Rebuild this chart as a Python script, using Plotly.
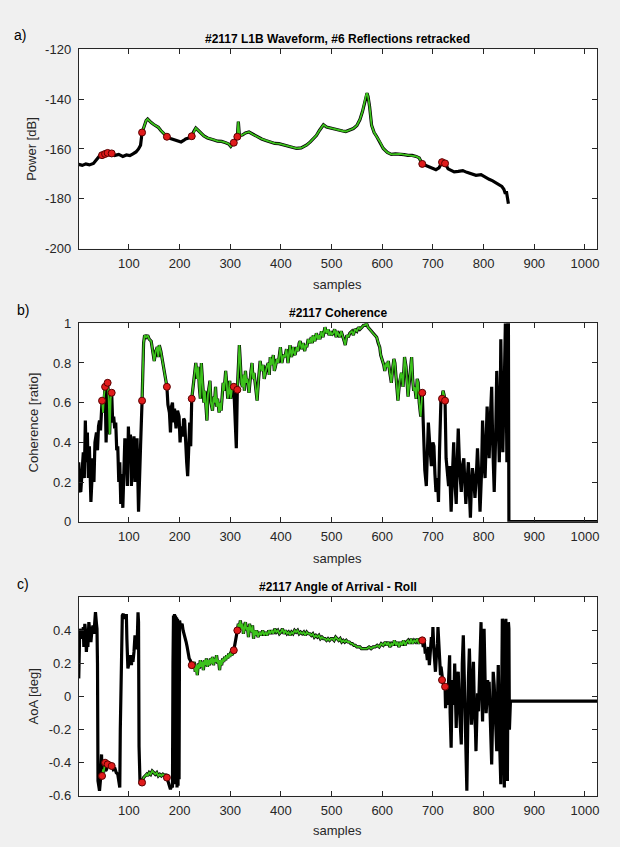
import numpy as np
import plotly.graph_objects as go

# ---------------- data ----------------
# Panel a: L1B waveform power [dB]
power_samples = [1, 8, 15, 22, 30, 36, 42, 47, 53, 58, 66, 72, 80, 88, 95, 102, 108, 114, 119, 123,
                 126, 131, 134, 137, 141, 144, 149, 154, 158, 163, 168, 175, 182, 190, 196, 203, 208,
                 212, 218, 224, 228, 232, 237, 242, 248, 255, 262, 268, 275, 283, 291, 297, 301, 304,
                 307, 310, 312, 314, 316, 318, 324, 330, 337, 345, 353, 362, 370, 379, 388, 396, 405,
                 414, 422, 431, 440, 446, 451, 458, 464, 470, 476, 481, 484, 490, 497, 505, 511, 516,
                 522, 528, 535, 543, 550, 556, 561, 565, 568, 570, 572, 575, 579, 584, 589, 595, 602,
                 610, 618, 626, 635, 643, 651, 659, 667, 673, 679, 684, 690, 698, 706, 712, 718, 724,
                 730, 736, 742, 750, 759, 767, 775, 785, 795, 803, 811, 818, 823, 827, 832, 836, 840,
                 843, 845, 847, 849]
power_db = [-166.2, -166.6, -166.0, -166.4, -165.8, -164.3, -162.8, -162.5, -162.0, -161.6, -161.8,
            -162.6, -162.2, -163.0, -162.4, -162.7, -162.0, -161.2, -160.0, -158.5,
            -153.4, -150.0, -148.6, -148.0, -149.0, -149.4, -150.2, -150.8, -151.3, -152.6, -153.8,
            -155.1, -155.8, -156.4, -156.6, -157.2, -156.6, -156.0, -155.6, -154.9, -153.0, -151.6,
            -152.6, -153.8, -154.8, -155.6, -156.2, -156.4, -156.9, -157.0, -157.5, -158.0, -159.0,
            -158.2, -157.5, -156.4, -155.5, -155.1, -149.0, -154.6, -154.4, -153.6, -153.2, -154.2,
            -155.1, -156.0, -156.6, -157.2, -157.8, -157.9, -158.4, -158.8, -159.3, -159.8, -159.6,
            -159.0, -158.4, -157.2, -156.0, -154.6, -152.6, -150.8, -150.3, -151.2, -151.6, -152.0,
            -152.4, -152.4, -152.8, -153.0, -152.4, -151.8, -150.6, -148.2, -145.0, -141.0, -138.5,
            -137.6, -139.0, -143.0, -150.5, -153.4, -155.0, -157.0, -159.8, -161.4, -162.2, -162.0,
            -162.0, -162.3, -162.6, -162.6, -163.0, -163.6, -166.0, -166.4, -167.0, -167.6, -168.3,
            -167.6, -165.3, -165.8, -168.0, -168.6, -169.2, -169.0, -168.7, -169.4, -170.0, -170.6,
            -170.3, -171.4, -172.2, -172.8, -173.4, -173.6, -174.5, -175.0, -176.2, -178.0, -177.0,
            -180.5, -182.0]

# Panel b: coherence [ratio]
coh_samples = [1, 3, 5, 8, 10, 12, 14, 16, 18, 20, 22, 25, 27, 29, 31, 33, 36, 38, 40, 42, 44, 47, 49,
               51, 53, 55, 58, 60, 62, 64, 66, 68, 70, 72, 74, 76, 78, 80, 82, 84, 86, 88, 90, 92, 95,
               97, 99, 101, 103, 105, 107, 110, 112, 114, 116, 119, 121, 123, 126, 129, 131, 134, 137,
               140, 144, 147, 150, 153, 156, 158, 160, 163, 165, 168, 170, 173, 175, 177, 180, 182,
               184, 186, 188, 190, 193, 196, 199, 201, 203, 206, 208, 210, 212, 214, 216, 218, 220,
               221, 222, 224, 227, 230, 232, 235, 237, 239, 241, 243, 245, 248, 250, 252, 254, 256,
               258, 260, 262, 265, 267, 269, 271, 273, 275, 278, 280, 282, 284, 286, 288, 291, 293,
               295, 297, 299, 301, 304, 307, 310, 312, 314, 316, 318, 320, 322, 324, 326, 328, 330,
               332, 334, 337, 339, 341, 343, 345, 347, 350, 353, 356, 359, 362, 365, 367, 369, 372,
               375, 377, 379, 382, 385, 387, 389, 392, 395, 397, 399, 402, 405, 408, 411, 414, 416,
               418, 421, 424, 426, 428, 431, 434, 436, 438, 441, 444, 447, 449, 451, 454, 457, 460,
               462, 464, 467, 470, 473, 475, 477, 480, 483, 485, 487, 490, 493, 495, 498, 500, 503,
               506, 509, 511, 513, 516, 519, 522, 525, 527, 530, 533, 536, 540, 543, 546, 550, 553,
               556, 560, 563, 566, 569, 572, 575, 579, 582, 585, 589, 592, 595, 597, 600, 603, 605,
               608, 610, 612, 615, 618, 621, 623, 625, 628, 631, 634, 636, 638, 641, 644, 647, 649,
               651, 654, 656, 658, 660, 662, 664, 667, 669, 671, 673, 676, 679, 682, 684, 687, 689,
               691, 694, 697, 700, 702, 704, 706, 709, 711, 713, 716, 718, 720, 722, 724, 726, 729,
               731, 733, 736, 738, 741, 743, 746, 748, 750, 753, 756, 758, 761, 763, 765, 768, 770,
               772, 774, 776, 778, 781, 783, 786, 788, 791, 793, 796, 798, 801, 803, 805, 807, 809,
               811, 813, 816, 818, 821, 824, 826, 829, 831, 833, 834, 836, 838, 841, 843, 845, 846,
               848, 849, 850, 1024]
coh_ratio = [0.30, 0.16, 0.15, 0.28, 0.35, 0.22, 0.51, 0.30, 0.45, 0.22, 0.38, 0.10, 0.26, 0.32, 0.20,
             0.40, 0.45, 0.36, 0.48, 0.51, 0.46, 0.61, 0.55, 0.64, 0.68, 0.40, 0.70, 0.63, 0.44, 0.62,
             0.65, 0.50, 0.53, 0.47, 0.50, 0.36, 0.38, 0.20, 0.30, 0.09, 0.24, 0.07, 0.20, 0.42, 0.35,
             0.18, 0.48, 0.30, 0.44, 0.18, 0.35, 0.43, 0.20, 0.32, 0.42, 0.05, 0.30, 0.38, 0.61, 0.90,
             0.94, 0.93, 0.94, 0.92, 0.91, 0.86, 0.81, 0.86, 0.88, 0.83, 0.89, 0.86, 0.83, 0.78, 0.75,
             0.70, 0.68, 0.59, 0.55, 0.45, 0.58, 0.60, 0.50, 0.57, 0.47, 0.56, 0.53, 0.40, 0.48, 0.43,
             0.52, 0.51, 0.35, 0.30, 0.23, 0.45, 0.50, 0.43, 0.38, 0.62, 0.70, 0.78, 0.80, 0.72, 0.78,
             0.68, 0.62, 0.80, 0.70, 0.60, 0.66, 0.55, 0.51, 0.64, 0.68, 0.71, 0.60, 0.56, 0.63, 0.60,
             0.68, 0.58, 0.62, 0.55, 0.60, 0.56, 0.63, 0.70, 0.66, 0.76, 0.70, 0.62, 0.65, 0.71, 0.62,
             0.68, 0.68, 0.50, 0.37, 0.665, 0.78, 0.89, 0.80, 0.70, 0.68, 0.74, 0.66, 0.76, 0.70, 0.72,
             0.65, 0.73, 0.76, 0.80, 0.72, 0.75, 0.68, 0.61, 0.72, 0.81, 0.76, 0.79, 0.72, 0.75, 0.78,
             0.80, 0.74, 0.83, 0.79, 0.84, 0.76, 0.78, 0.82, 0.80, 0.86, 0.88, 0.80, 0.84, 0.83, 0.87,
             0.80, 0.84, 0.89, 0.83, 0.88, 0.85, 0.84, 0.88, 0.86, 0.90, 0.91, 0.87, 0.90, 0.86, 0.89,
             0.88, 0.92, 0.90, 0.93, 0.90, 0.94, 0.91, 0.95, 0.92, 0.94, 0.92, 0.96, 0.93, 0.97, 0.98,
             0.95, 0.97, 0.94, 0.96, 0.94, 0.95, 0.97, 0.93, 0.96, 0.95, 0.93, 0.96, 0.94, 0.91, 0.89,
             0.94, 0.93, 0.95, 0.96, 0.94, 0.97, 0.96, 0.98, 0.97, 0.98, 0.99, 0.99, 1.00, 0.98, 0.97,
             0.96, 0.95, 0.94, 0.93, 0.90, 0.88, 0.84, 0.82, 0.79, 0.76, 0.80, 0.78, 0.81, 0.75, 0.70,
             0.78, 0.82, 0.80, 0.72, 0.61, 0.70, 0.74, 0.75, 0.68, 0.83, 0.78, 0.70, 0.63, 0.72, 0.80,
             0.83, 0.72, 0.66, 0.68, 0.62, 0.72, 0.70, 0.60, 0.53, 0.65, 0.33, 0.26, 0.18, 0.35, 0.50,
             0.38, 0.28, 0.40, 0.38, 0.24, 0.15, 0.22, 0.10, 0.35, 0.63, 0.62, 0.66, 0.64, 0.61, 0.32,
             0.25, 0.18, 0.28, 0.05, 0.20, 0.40, 0.22, 0.09, 0.30, 0.47, 0.25, 0.15, 0.28, 0.32, 0.20,
             0.09, 0.22, 0.30, 0.15, 0.02, 0.18, 0.27, 0.20, 0.12, 0.25, 0.37, 0.20, 0.05, 0.25, 0.51,
             0.30, 0.22, 0.40, 0.58, 0.45, 0.32, 0.50, 0.68, 0.40, 0.15, 0.45, 0.76, 0.50, 0.30, 0.60,
             0.92, 0.60, 0.35, 0.70, 1.00, 0.60, 0.30, 1.00, 1.00, 0.0, 0.0]

# Panel c: angle of arrival, roll [deg]
aoa_samples = [1, 2, 3, 5, 6, 8, 10, 11, 13, 15, 16, 18, 19, 21, 23, 25, 27, 29, 31, 32, 34, 36, 37,
               38, 39, 41, 42, 44, 46, 47, 49, 50, 53, 54, 56, 58, 60, 63, 66, 69, 72, 75, 78, 80, 82,
               83, 85, 86, 87, 89, 91, 93, 95, 96, 97, 98, 100, 102, 103, 105, 106, 108, 110, 112, 114,
               116, 117, 118, 119, 120, 121, 122, 124, 126, 129, 132, 135, 137, 140, 143, 146, 149,
               152, 155, 158, 161, 164, 167, 170, 173, 175, 178, 180, 182, 184, 186, 187, 188, 189,
               190, 191, 192, 193, 194, 195, 196, 197, 198, 199, 200, 201, 203, 205, 207, 209, 211,
               213, 215, 217, 219, 221, 224, 227, 229, 231, 233, 235, 237, 239, 241, 243, 245, 247,
               249, 251, 253, 255, 257, 259, 261, 263, 265, 267, 269, 271, 273, 275, 277, 279, 281,
               283, 285, 287, 289, 291, 293, 295, 297, 299, 301, 303, 305, 307, 310, 312, 314, 316,
               318, 320, 322, 324, 326, 328, 330, 332, 334, 336, 338, 340, 342, 344, 346, 348, 350,
               352, 355, 358, 361, 364, 367, 370, 373, 376, 379, 382, 385, 388, 391, 394, 397, 400,
               403, 406, 409, 412, 415, 418, 421, 424, 427, 430, 433, 436, 439, 442, 445, 448, 451,
               454, 457, 460, 463, 466, 469, 472, 475, 478, 481, 484, 487, 490, 493, 496, 499, 502,
               505, 508, 511, 514, 517, 520, 523, 526, 529, 532, 535, 538, 541, 544, 547, 550, 553,
               556, 559, 562, 566, 570, 574, 578, 582, 586, 590, 594, 598, 602, 606, 609, 612, 615,
               618, 621, 624, 627, 630, 633, 636, 639, 642, 645, 648, 651, 654, 657, 660, 663, 666,
               669, 672, 675, 677, 679, 681, 683, 685, 687, 689, 691, 693, 695, 697, 699, 700, 702,
               704, 705, 707, 709, 710, 712, 714, 715, 716, 718, 720, 722, 724, 725, 727, 729, 731,
               733, 734, 736, 738, 740, 741, 743, 744, 746, 748, 750, 752, 754, 756, 758, 760, 762,
               764, 765, 767, 769, 770, 772, 774, 776, 778, 780, 782, 784, 785, 787, 788, 790, 792,
               794, 795, 796, 798, 799, 801, 803, 805, 806, 808, 810, 811, 813, 815, 816, 818, 819,
               821, 823, 825, 826, 828, 829, 831, 833, 834, 836, 837, 838, 839, 841, 842, 843, 844,
               845, 846, 847, 848, 849, 850, 851, 852, 853, 1024]
aoa_deg = [0.11, 0.30, 0.41, 0.36, 0.40, 0.35, 0.42, 0.30, 0.44, 0.38, 0.27, 0.35, 0.30, 0.45, 0.38,
           0.33, 0.40, 0.43, 0.38, 0.47, 0.51, 0.44, 0.41, 0.20, -0.51, -0.55, -0.57, -0.50, -0.35,
           -0.48, -0.44, -0.46, -0.40, -0.45, -0.44, -0.41, -0.43, -0.40, -0.42, -0.44, -0.43, -0.46,
           -0.47, -0.50, -0.55, -0.20, 0.10, 0.40, 0.49, 0.50, 0.47, 0.49, 0.49, 0.35, 0.22, 0.17,
           0.20, 0.22, 0.25, 0.19, 0.24, 0.21, 0.27, 0.37, 0.30, 0.29, 0.40, 0.51, 0.45, -0.30, -0.51,
           -0.53, -0.52, -0.52, -0.49, -0.48, -0.47, -0.48, -0.46, -0.47, -0.45, -0.46, -0.47, -0.46,
           -0.48, -0.47, -0.48, -0.47, -0.48, -0.47, -0.49, -0.52, -0.55, -0.56, -0.54, -0.55, 0.20,
           0.49, -0.50, 0.50, -0.53, 0.49, -0.52, 0.48, -0.55, 0.47, -0.54, 0.45, -0.50, 0.46, 0.44,
           0.43, 0.44, 0.40, 0.38, 0.35, 0.33, 0.30, 0.26, 0.23, 0.22, 0.19, 0.17, 0.21, 0.15, 0.19,
           0.13, 0.20, 0.17, 0.22, 0.18, 0.21, 0.16, 0.22, 0.19, 0.23, 0.18, 0.22, 0.19, 0.23, 0.20,
           0.24, 0.19, 0.23, 0.21, 0.25, 0.20, 0.22, 0.16, 0.22, 0.19, 0.23, 0.21, 0.24, 0.22, 0.25,
           0.23, 0.26, 0.24, 0.27, 0.25, 0.26, 0.28, 0.33, 0.38, 0.40, 0.44, 0.42, 0.46, 0.41, 0.44,
           0.38, 0.43, 0.45, 0.40, 0.42, 0.36, 0.44, 0.41, 0.39, 0.43, 0.35, 0.40, 0.37, 0.40, 0.36,
           0.39, 0.37, 0.40, 0.37, 0.39, 0.37, 0.40, 0.38, 0.40, 0.38, 0.41, 0.39, 0.40, 0.38, 0.39,
           0.41, 0.38, 0.40, 0.38, 0.39, 0.37, 0.39, 0.38, 0.40, 0.39, 0.40, 0.38, 0.39, 0.38, 0.39,
           0.37, 0.39, 0.38, 0.38, 0.37, 0.38, 0.36, 0.37, 0.36, 0.37, 0.35, 0.36, 0.35, 0.35, 0.34,
           0.35, 0.34, 0.35, 0.35, 0.34, 0.36, 0.35, 0.34, 0.35, 0.33, 0.34, 0.33, 0.34, 0.33, 0.33,
           0.32, 0.32, 0.31, 0.31, 0.30, 0.30, 0.30, 0.29, 0.29, 0.29, 0.29, 0.30, 0.29, 0.30, 0.30,
           0.31, 0.30, 0.32, 0.31, 0.33, 0.31, 0.33, 0.30, 0.32, 0.31, 0.34, 0.31, 0.33, 0.30, 0.33,
           0.31, 0.34, 0.31, 0.33, 0.34, 0.32, 0.35, 0.32, 0.34, 0.33, 0.35, 0.32, 0.35, 0.33, 0.34,
           0.30, 0.33, 0.26, 0.28, 0.22, 0.30, 0.19, 0.27, 0.36, 0.32, 0.42, 0.28, 0.20, 0.15, 0.25,
           0.32, 0.42, 0.30, 0.20, 0.13, 0.18, 0.10, 0.08, 0.07, 0.06, -0.07, 0.07, -0.05, 0.18, 0.25,
           -0.10, -0.31, 0.10, -0.05, -0.05, 0.20, 0.05, -0.19, 0.10, 0.15, -0.05, -0.20, -0.29, 0.20,
           0.37, 0.10, -0.09, -0.30, -0.57, -0.05, 0.10, 0.29, -0.05, -0.17, 0.05, 0.21, -0.10, -0.20,
           -0.33, -0.15, 0.02, -0.09, 0.20, 0.35, 0.45, 0.10, -0.15, 0.05, 0.41, 0.10, -0.10, -0.05,
           0.10, -0.02, 0.09, -0.20, -0.30, -0.41, -0.10, 0.15, 0.07, -0.15, -0.25, -0.33, 0.05, 0.19,
           -0.20, -0.40, -0.53, 0.10, 0.47, 0.45, -0.20, -0.55, 0.10, 0.46, 0.47, 0.00, -0.30, -0.51,
           0.10, 0.45, 0.41, -0.20, -0.03, -0.028, -0.028]

# Retracked reflections: (first sample, last sample)
reflection_start = [47, 58, 126, 224, 314, 718]
reflection_end = [53, 66, 175, 307, 679, 724]

x_ticks = [100, 200, 300, 400, 500, 600, 700, 800, 900, 1000]
power_ticks = [-200, -180, -160, -140, -120]
power_ticktext = ["-200", "-180", "-160", "-140", "-120"]
coh_ticks = [0, 0.2, 0.4, 0.6, 0.8, 1]
coh_ticktext = ["0", "0.2", "0.4", "0.6", "0.8", "1"]
aoa_ticks = [-0.6, -0.4, -0.2, 0, 0.2, 0.4]
aoa_ticktext = ["-0.6", "-0.4", "-0.2", "0", "0.2", "0.4"]

for nm, a, b in [("power", power_samples, power_db), ("coh", coh_samples, coh_ratio),
                 ("aoa", aoa_samples, aoa_deg)]:
    if len(a) != len(b):
        raise SystemExit(f"{nm}: {len(a)} samples vs {len(b)} values")

# ---------------- figure ----------------
W, H = 620, 847
BLACK = "#000000"
GREEN = "#3cc21c"
RED = "#e01b1b"
AX = "#262626"
FONT = "Liberation Sans, Arial, sans-serif"

fig = go.Figure()


def add_panel(k, xs, ys):
    xs = np.asarray(xs, dtype=float)
    ys = np.asarray(ys, dtype=float)
    xa = "x" if k == 1 else f"x{k}"
    ya = "y" if k == 1 else f"y{k}"
    fig.add_trace(go.Scatter(x=xs, y=ys, mode="lines", line=dict(color=BLACK, width=3.2),
                             xaxis=xa, yaxis=ya, showlegend=False, hoverinfo="skip"))
    gx, gy = [], []
    for a, b in zip(reflection_start, reflection_end):
        m = (xs >= a) & (xs <= b)
        gx += list(xs[m]) + [None]
        gy += list(ys[m]) + [None]
    fig.add_trace(go.Scatter(x=gx, y=gy, mode="lines", line=dict(color=GREEN, width=1.8),
                             xaxis=xa, yaxis=ya, showlegend=False, hoverinfo="skip"))
    mx, my = [], []
    for a, b in zip(reflection_start, reflection_end):
        for s in (a, b):
            i = int(np.argmin(np.abs(xs - s)))
            mx.append(xs[i]); my.append(ys[i])
    fig.add_trace(go.Scatter(x=mx, y=my, mode="markers",
                             marker=dict(color=RED, size=7, line=dict(color="#5a0000", width=1)),
                             xaxis=xa, yaxis=ya, showlegend=False, hoverinfo="skip"))


add_panel(1, power_samples, power_db)
add_panel(2, coh_samples, coh_ratio)
add_panel(3, aoa_samples, aoa_deg)

xdom = [79 / W, 599 / W]
panels = [(43, 246), (322, 524), (601, 803)]


def ydom(top, bot):
    return [1 - bot / H, 1 - top / H]


axis_common = dict(showline=True, linecolor=AX, linewidth=1, mirror="ticks", ticks="inside",
                   ticklen=5, tickcolor=AX, showgrid=False, zeroline=False,
                   tickfont=dict(family=FONT, size=13, color=AX))

layout = dict(
    width=W, height=H, margin=dict(l=0, r=0, t=0, b=0),
    paper_bgcolor="#f0f0f0", plot_bgcolor="#ffffff",
    font=dict(family=FONT, color=AX),
    showlegend=False,
)
yranges = [[-200, -120], [0, 1], [-0.6, 0.6]]
yticks = [power_ticks, coh_ticks, aoa_ticks]
yticktexts = [power_ticktext, coh_ticktext, aoa_ticktext]
for k in range(1, 4):
    top, bot = panels[k - 1]
    xkey = "xaxis" if k == 1 else f"xaxis{k}"
    ykey = "yaxis" if k == 1 else f"yaxis{k}"
    layout[xkey] = dict(axis_common, domain=xdom, range=[1, 1024], tickvals=x_ticks,
                        anchor="y" if k == 1 else f"y{k}", ticklabelstandoff=3)
    layout[ykey] = dict(axis_common, domain=ydom(top, bot), range=yranges[k - 1],
                        tickvals=yticks[k - 1], ticktext=yticktexts[k - 1],
                        anchor="x" if k == 1 else f"x{k}", ticklabelstandoff=4)

fig.update_layout(**layout)

titles = ["#2117 L1B Waveform, #6 Reflections retracked", "#2117 Coherence",
          "#2117 Angle of Arrival - Roll"]
title_y = [33, 312, 590]
letters = ["a)", "b)", "c)"]
letter_pos = [(20, 28), (23, 308), (23, 587)]
ylabels = ["Power [dB]", "Coherence [ratio]", "AoA [deg]"]
ylabel_x = [32, 34, 34]
xlabel_y = [283, 561, 838]
cx = (79 + 599) / 2 / W

ann = []
for i in range(3):
    top, bot = panels[i]
    ann.append(dict(text="<b>" + titles[i] + "</b>", x=cx, y=1 - title_y[i] / H, xref="paper",
                    yref="paper", showarrow=False, xanchor="center", yanchor="middle",
                    font=dict(family=FONT, size=12, color="#000000")))
    ann.append(dict(text=letters[i], x=letter_pos[i][0] / W, y=1 - letter_pos[i][1] / H,
                    xref="paper", yref="paper", showarrow=False, xanchor="center",
                    yanchor="middle", font=dict(family=FONT, size=14, color="#000000")))
    ann.append(dict(text=ylabels[i], x=ylabel_x[i] / W, y=1 - (top + bot) / 2 / H, xref="paper",
                    yref="paper", showarrow=False, textangle=-90, xanchor="center",
                    yanchor="middle", font=dict(family=FONT, size=13, color=AX)))
    ann.append(dict(text="samples", x=cx, y=1 - xlabel_y[i] / H, xref="paper", yref="paper",
                    showarrow=False, xanchor="center", yanchor="middle",
                    font=dict(family=FONT, size=13, color=AX)))
fig.update_layout(annotations=ann)

fig.write_html("out.html", config={"displayModeBar": False},
               post_script="document.body.style.margin='0';")
